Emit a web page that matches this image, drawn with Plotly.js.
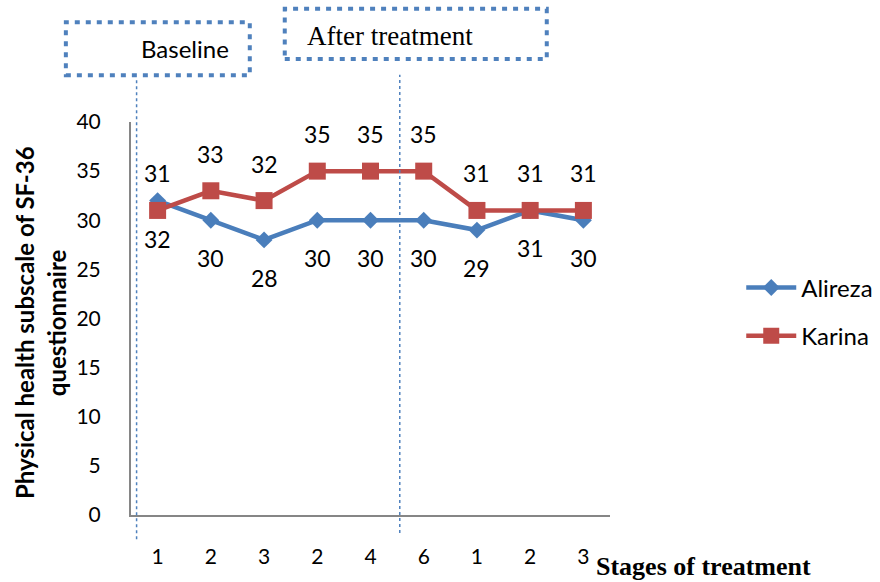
<!DOCTYPE html>
<html>
<head>
<meta charset="utf-8">
<script src="https://cdn.plot.ly/plotly-3.0.1.min.js"></script>
<style>html,body{margin:0;padding:0;background:#fff;}#chart{width:880px;height:582px;}</style>
</head>
<body>
<div id="chart"></div>
<script>
// Data
var tickLabels = ["1", "2", "3", "2", "4", "6", "1", "2", "3"];
var alireza = [32, 30, 28, 30, 30, 30, 29, 31, 30];
var karina = [31, 33, 32, 35, 35, 35, 31, 31, 31];
var seriesNames = ["Alireza", "Karina"];
var yTicks = [0, 5, 10, 15, 20, 25, 30, 35, 40];

var idx = tickLabels.map(function (_, i) { return i; });
var blue = "#4a7ebb", red = "#be4b48";
var fontSans = "Lato, 'Open Sans', sans-serif";
var fontSerif = "'Liberation Serif', 'DejaVu Serif', serif";

var traces = [
  {
    x: idx, y: alireza, name: seriesNames[0], type: "scatter", mode: "lines+markers",
    line: {color: blue, width: 4.5},
    marker: {symbol: "diamond", size: 13, color: blue},
    legendgroup: "a"
  },
  {
    x: idx, y: karina, name: seriesNames[1], type: "scatter", mode: "lines+markers",
    line: {color: red, width: 4.5},
    marker: {symbol: "square", size: 17, color: red},
    legendgroup: "k"
  }
];

var labelFont = {family: fontSans, size: 23, color: "#000"};
var annotations = [];
idx.forEach(function (i) {
  annotations.push({x: i, y: karina[i], xref: "x", yref: "y", text: String(karina[i]),
    xanchor: "center", yanchor: "middle",
    showarrow: false, yshift: 37, font: labelFont});
  annotations.push({x: i, y: alireza[i], xref: "x", yref: "y", text: String(alireza[i]),
    xanchor: "center", yanchor: "middle",
    showarrow: false, yshift: -38, font: labelFont});
});
annotations.push({x: 0.113, y: 1.188, xref: "paper", yref: "paper", text: "Baseline",
  xanchor: "center", yanchor: "middle",
  showarrow: false, font: {family: fontSans, size: 24, color: "#000"}});
annotations.push({x: 0.541, y: 1.218, xref: "paper", yref: "paper", text: "After treatment",
  xanchor: "center", yanchor: "middle",
  showarrow: false, font: {family: fontSerif, size: 27, color: "#000"}});
annotations.push({x: 0.967, y: -0.13, xref: "paper", yref: "paper", xanchor: "left", yanchor: "middle",
  text: "<b>Stages of treatment</b>", showarrow: false,
  font: {family: fontSerif, size: 26, color: "#000"}});
annotations.push({x: -0.222, y: 0.49, xref: "paper", yref: "paper", textangle: -90,
  xanchor: "center", yanchor: "middle",
  text: "<b>Physical health subscale of SF-36</b>", showarrow: false,
  font: {family: fontSans, size: 24, color: "#000"}});
annotations.push({x: -0.155, y: 0.49, xref: "paper", yref: "paper", textangle: -90,
  xanchor: "center", yanchor: "middle",
  text: "<b>questionnaire</b>", showarrow: false,
  font: {family: fontSans, size: 24, color: "#000"}});

var dotBox = {color: "#4f81bd", width: 4, dash: "5px,6px"};
var shapes = [
  {type: "rect", xref: "paper", yref: "paper", x0: -0.136, x1: 0.248, y0: 1.119, y1: 1.254, line: dotBox},
  {type: "rect", xref: "paper", yref: "paper", x0: 0.321, x1: 0.868, y0: 1.160, y1: 1.288, line: dotBox},
  {type: "line", xref: "x", yref: "paper", x0: -0.395, x1: -0.395, y0: -0.062, y1: 1.107,
    line: {color: "#4f81bd", width: 1.5, dash: "dot"}},
  {type: "line", xref: "x", yref: "paper", x0: 4.55, x1: 4.55, y0: -0.046, y1: 1.12,
    line: {color: "#4f81bd", width: 1.5, dash: "dot"}}
];

var layout = {
  width: 880, height: 582,
  margin: {l: 131, r: 270, t: 122, b: 67, autoexpand: false},
  paper_bgcolor: "#fff", plot_bgcolor: "#fff",
  showlegend: true,
  legend: {x: 1.274, y: 0.635, xanchor: "left", yanchor: "top",
    font: {family: fontSans, size: 24, color: "#000"},
    traceorder: "grouped", tracegroupgap: 14, itemwidth: 50},
  xaxis: {
    range: [-0.5, 8.5], tickvals: idx, ticktext: tickLabels,
    showgrid: false, zeroline: false, showline: true, linecolor: "#868686", linewidth: 2,
    ticks: "", ticklabelstandoff: 22, tickfont: {family: fontSans, size: 21, color: "#000"},
    fixedrange: true
  },
  yaxis: {
    range: [0, 40], tickvals: yTicks,
    showgrid: false, zeroline: false, showline: true, linecolor: "#868686", linewidth: 2,
    ticks: "", ticklabelstandoff: 24, tickfont: {family: fontSans, size: 21, color: "#000"},
    fixedrange: true
  },
  annotations: annotations,
  shapes: shapes
};

Plotly.newPlot("chart", traces, layout, {displayModeBar: false, staticPlot: true});
</script>
</body>
</html>
